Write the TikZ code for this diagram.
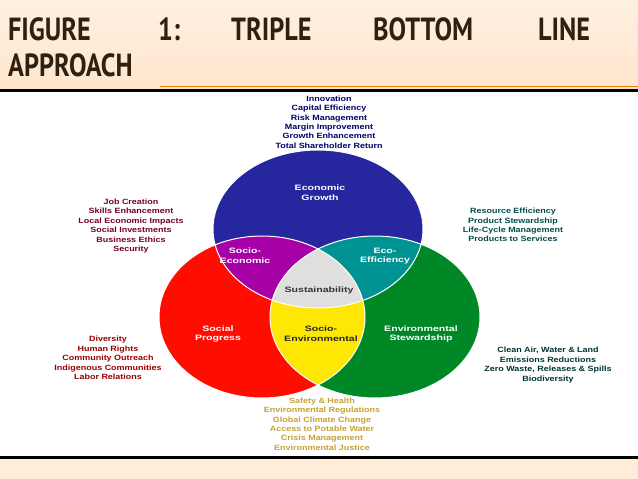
\documentclass[tikz,border=0pt]{standalone}
\usepackage{fontspec}
\setmainfont{Liberation Sans}
\newfontfamily\titlefont{PT Sans}
\begin{document}
\begin{tikzpicture}[x=1pt,y=-1pt,
  lbl/.style={font=\bfseries\fontsize{7.6}{9.4}\selectfont,align=center,inner sep=0pt,xscale=1.18},
  inlbl/.style={lbl,text=white,font=\bfseries\fontsize{7.8}{9.6}\selectfont,xscale=1.15},
  ttl/.style={font=\titlefont\bfseries\fontsize{32}{32}\selectfont,text=black!75!brown,anchor=base west,inner sep=0pt,xscale=0.82}]
\useasboundingbox (0,0) rectangle (638,479);
\fill[top color=orange!12,bottom color=orange!20] (0,0) rectangle (638,90);
\fill[orange!15] (0,458) rectangle (638,479);
\draw[orange!70!brown,line width=0.8pt] (160,86) -- (638,86);
\draw[black,line width=3pt] (0,90) -- (638,90);
\draw[black,line width=3pt] (0,457) -- (638,457);
\node[ttl] (t1) at (8,40) {FIGURE};
\node[ttl] (t2) at (158,40) {1:};
\node[ttl] (t3) at (231,40) {TRIPLE};
\node[ttl] (t4) at (373,40) {BOTTOM};
\node[ttl] (t5) at (538,40) {LINE};
\node[ttl] (t6) at (8,76) {APPROACH};
% circles
\def\B{(318,229) ellipse [x radius=105,y radius=79]}
\def\R{(262,317) ellipse [x radius=103,y radius=81]}
\def\G{(375,317) ellipse [x radius=105,y radius=81]}
\fill[blue!55!black!85] \B;
\fill[red!90!orange] \R;
\fill[green!45!black!85!cyan] \G;
\begin{scope}\clip \B; \fill[violet!70!magenta] \R; \fill[teal!85!cyan] \G; \end{scope}
\begin{scope}\clip \R; \fill[yellow!90!orange] \G; \end{scope}
\begin{scope}\clip \B; \clip \R; \fill[gray!25] \G; \end{scope}
\draw[white,line width=1pt] \B \R \G;
\node[inlbl] (eg) at (320,193) {Economic\\Growth};
\node[inlbl] (se) at (245,256) {Socio-\\Economic};
\node[inlbl] (ee) at (385,256) {Eco-\\Efficiency};
\node[inlbl,text=black!80] (su) at (319,290) {Sustainability};
\node[inlbl] (sp) at (218,334) {Social\\Progress};
\node[inlbl,text=black!85] (sen) at (321,334) {Socio-\\Environmental};
\node[inlbl] (es) at (421,334) {Environmental\\Stewardship};
% text blocks
\node[lbl,text=blue!40!black] (top) at (329,122) {Innovation\\Capital Efficiency\\Risk Management\\Margin Improvement\\Growth Enhancement\\Total Shareholder Return};
\node[lbl,text=purple!60!black] (lt) at (131,226) {Job Creation\\Skills Enhancement\\Local Economic Impacts\\Social Investments\\Business Ethics\\Security};
\node[lbl,text=red!60!black] (lb) at (108,358) {Diversity\\Human Rights\\Community Outreach\\Indigenous Communities\\Labor Relations};
\node[lbl,text=teal!60!black] (rt) at (513,225) {Resource Efficiency\\Product Stewardship\\Life-Cycle Management\\Products to Services};
\node[lbl,text=teal!40!black] (rb) at (548,365) {Clean Air, Water \& Land\\Emissions Reductions\\Zero Waste, Releases \& Spills\\Biodiversity};
\node[lbl,text=yellow!55!orange!75!black] (bt) at (322,424) {Safety \& Health\\Environmental Regulations\\Global Climate Change\\Access to Potable Water\\Crisis Management\\Environmental Justice};
\end{tikzpicture}
\end{document}
